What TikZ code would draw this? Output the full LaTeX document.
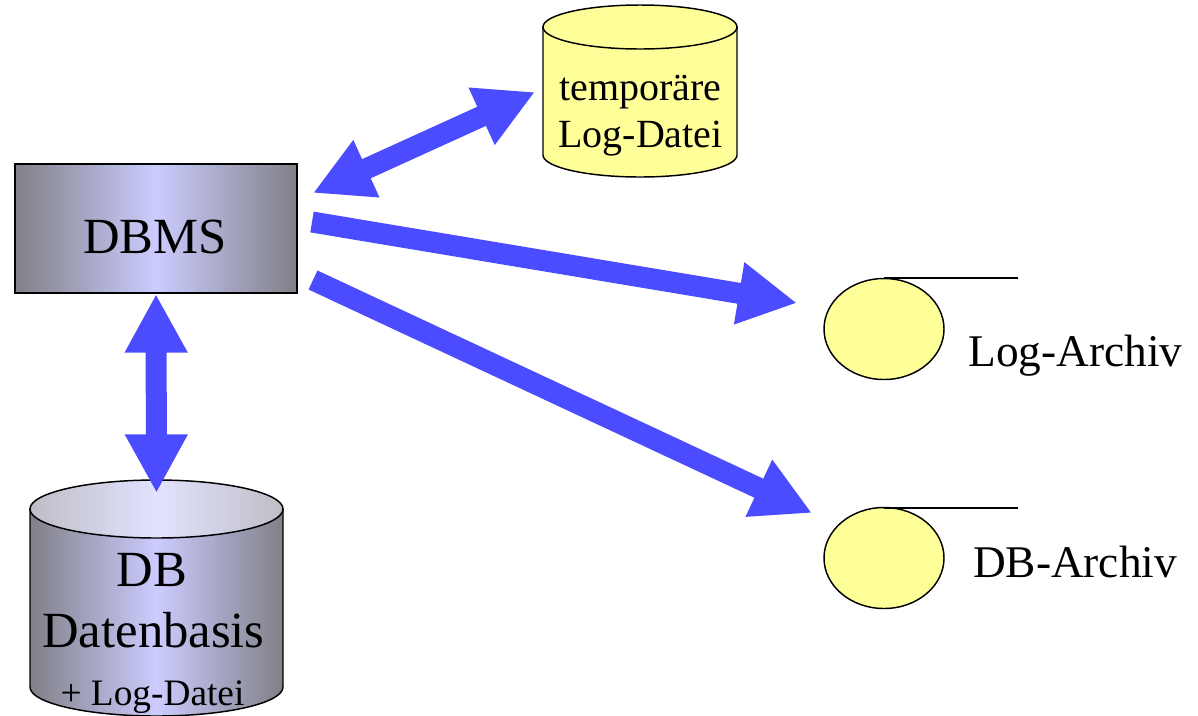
\documentclass[tikz,border=0pt]{standalone}
\usepackage{fontspec}
\setmainfont{Liberation Serif}
\usetikzlibrary{arrows.meta}
\definecolor{arrowblue}{RGB}{75,75,255}
\definecolor{dbgray}{RGB}{128,128,136}
\definecolor{dblav}{RGB}{204,204,255}
\definecolor{toplight}{RGB}{226,226,255}
\definecolor{topgray}{RGB}{190,190,198}
\definecolor{paleyellow}{RGB}{255,255,153}
\begin{document}
\begin{tikzpicture}[x=0.75pt,y=-0.75pt,
  fat/.style={arrowblue, line width=15.75pt, line cap=butt},
  fatarrow/.style={fat,-{Triangle[length=44pt,width=44pt]}},
  fatboth/.style={fat,{Triangle[length=44pt,width=44pt]}-{Triangle[length=44pt,width=44pt]}},
  bigtext/.style={inner sep=0pt, anchor=base, font=\fontsize{38}{44}\selectfont},
  smalltext/.style={inner sep=0pt, anchor=base, font=\fontsize{28}{32}\selectfont},
  temptext/.style={inner sep=0pt, anchor=base, font=\fontsize{30}{35}\selectfont},
  archtext/.style={inner sep=0pt, anchor=base, font=\fontsize{34}{40}\selectfont},
  outline/.style={draw=black, line width=1.1pt},
  tapeline/.style={draw=black, line width=2.2pt}]
\useasboundingbox (0,0) rectangle (1198,715);

% DBMS box
\node[outline, line width=1.4pt, left color=dbgray, right color=dbgray, middle color=dblav,
      minimum width=211.5pt, minimum height=96.75pt, inner sep=0pt] (dbms) at (156,228.5) {};
\node[bigtext] (dbmstext) at (155,253) {DBMS};

% temporary log cylinder
\coordinate (temp) at (640,91);
\filldraw[outline, fill=paleyellow] (543,27) -- (543,155) arc[start angle=180, end angle=0, x radius=97, y radius=22] -- (737,27) -- cycle;
\filldraw[outline, fill=paleyellow] (640,27) ellipse[x radius=97, y radius=22];
\node[temptext] (temp1) at (640.5,100) {temporäre};
\node[temptext] (temp2) at (640.5,147) {Log-Datei};

% DB cylinder
\coordinate (db) at (156.5,598);
\shadedraw[outline, left color=dbgray, right color=dbgray, middle color=dblav]
  (30,509) -- (30,687) arc[start angle=180, end angle=0, x radius=126.5, y radius=29] -- (283,509) -- cycle;
\shadedraw[outline, left color=topgray, right color=topgray, middle color=toplight]
  (156.5,509) ellipse[x radius=126.5, y radius=29];
\node[bigtext] (db1) at (152,586) {DB};
\node[bigtext] (db2) at (153.5,647) {Datenbasis};
\node[smalltext] (db3) at (152.5,705) {+ Log-Datei};

% tapes
\filldraw[outline, fill=paleyellow] (884,329) ellipse[x radius=60, y radius=50.5];
\coordinate (logtapeA) at (884,278);
\coordinate (logtapeB) at (1018,278);
\draw[tapeline] (logtapeA) -- (logtapeB);
\node[archtext] (logarch) at (1075.5,366) {Log-Archiv};

\filldraw[outline, fill=paleyellow] (884,558) ellipse[x radius=60, y radius=50.5];
\coordinate (dbtapeA) at (884,508);
\coordinate (dbtapeB) at (1018,508);
\draw[tapeline] (dbtapeA) -- (dbtapeB);
\node[archtext] (dbarch) at (1075,577) {DB-Archiv};

% arrows
\coordinate (a1s) at (313,193);
\coordinate (a1e) at (535,92);
\draw[fatboth] (a1s) -- (a1e);

\coordinate (a2s) at (312,222);
\coordinate (a2e) at (797,303);
\draw[fatarrow] (a2s) -- (a2e);

\coordinate (a3s) at (313,280);
\coordinate (a3e) at (812,513);
\draw[fatarrow] (a3s) -- (a3e);

\coordinate (a4e) at (156.5,493);
\draw[fatboth] (dbms.south) -- (a4e);
\end{tikzpicture}
\end{document}
